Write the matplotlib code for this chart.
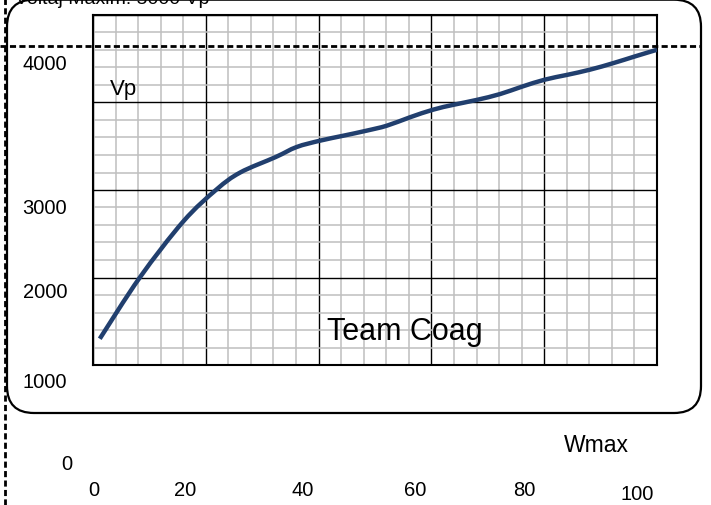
import matplotlib
matplotlib.use('Agg')
import numpy as np
import matplotlib.pyplot as plt
from matplotlib.patches import FancyBboxPatch, PathPatch
from matplotlib.path import Path
from matplotlib.lines import Line2D
from matplotlib.ticker import MultipleLocator
from matplotlib.transforms import IdentityTransform

plt.rcParams['font.family'] = ['Liberation Sans', 'DejaVu Sans']

# curve
wmax = [1.2, 8.3, 16.0, 21.9, 26.1, 32.4, 36.1, 40.2, 44.5, 48.5,
        52.1, 56.2, 60.3, 64.0, 68.0, 72.2, 76.0, 80.1, 84.0, 88.1, 92.3, 96.0, 100.0]
vp = [1300, 2000, 2640, 3006, 3200, 3377, 3491, 3563, 3622, 3678,
      3735, 3831, 3918, 3975, 4029, 4097, 4180, 4261, 4315, 4375, 4451, 4525, 4603]

x_labels = ['0', '20', '40', '60', '80', '100']
y_labels = ['4000', '3000', '2000', '1000', '0']
title = 'Voltaj Maxim: 5000 Vp'

W, H = 711, 506
fig = plt.figure(figsize=(W / 100, H / 100), dpi=100)

def fx(px):
    return px / W

def fy(py):
    return 1 - py / H

# rounded frame, in pixels
frame = FancyBboxPatch((7, H - 414), 694, 413.3,
                       boxstyle='round,pad=0,rounding_size=27',
                       transform=IdentityTransform(),
                       fill=False, ec='black', lw=1.6, zorder=1)
fig.add_artist(frame)

ax = fig.add_axes([fx(93), fy(366), fx(564), 350 / H])
ax.set_xlim(0, 100)
ax.set_ylim(1000, 5000)
ax.xaxis.set_major_locator(MultipleLocator(20))
ax.xaxis.set_minor_locator(MultipleLocator(4))
ax.yaxis.set_major_locator(MultipleLocator(1000))
ax.yaxis.set_minor_locator(MultipleLocator(200))
ax.grid(which='minor', color='#bfbfbf', lw=1.1)
ax.grid(which='major', color='black', lw=1.0)
ax.set_axisbelow(True)
ax.tick_params(which='both', length=0, labelbottom=False, labelleft=False)
for s in ax.spines.values():
    s.set_linewidth(1.5)

# smoothed line like the spreadsheet one (cubic bezier through the points)
pts = np.column_stack([wmax, vp]).astype(float)
verts = [pts[0]]
codes = [Path.MOVETO]
for i in range(len(pts) - 1):
    p0 = pts[max(i - 1, 0)]
    p1 = pts[i]
    p2 = pts[i + 1]
    p3 = pts[min(i + 2, len(pts) - 1)]
    verts += [p1 + (p2 - p0) / 6, p2 - (p3 - p1) / 6, p2]
    codes += [Path.CURVE4] * 3
ax.add_patch(PathPatch(Path(verts, codes), fill=False, ec='#213f6e', lw=3.2,
                       capstyle='butt', zorder=3))

ax.text(0.03, 0.79, 'Vp', transform=ax.transAxes, fontsize=16, va='center', ha='left')
ax.text(0.552, 0.097, 'Team Coag', transform=ax.transAxes, fontsize=22,
        va='center', ha='center')

# tick labels (placed as in the original, offset from the grid)
x_pos = [94, 185, 303, 415, 524, 637]
x_ypos = [491, 491, 491, 491, 491, 495]
for lab, px, py in zip(x_labels, x_pos, x_ypos):
    fig.text(fx(px), fy(py), lab, fontsize=14.5, ha='center', va='center')
y_pos = [65, 208, 293, 383, 465]
y_xpos = [45, 45, 45, 45, 67]
for lab, px, py in zip(y_labels, y_xpos, y_pos):
    fig.text(fx(px), fy(py), lab, fontsize=14.5, ha='center', va='center')

fig.text(fx(596), fy(446), 'Wmax', fontsize=16.5, ha='center', va='center')
fig.text(fx(15), fy(4), title, fontsize=14, ha='left', va='baseline')

# dashed guide lines
fig.add_artist(Line2D([0, fx(700)], [fy(47), fy(47)], transform=fig.transFigure,
                      color='black', lw=2, ls=(0, (2.2, 1.2)), zorder=5))
fig.add_artist(Line2D([fx(4.5), fx(4.5)], [0, 1], transform=fig.transFigure,
                      color='black', lw=2, ls=(0, (2.2, 1.2)), zorder=5))

fig.savefig('out.png', dpi=100)
